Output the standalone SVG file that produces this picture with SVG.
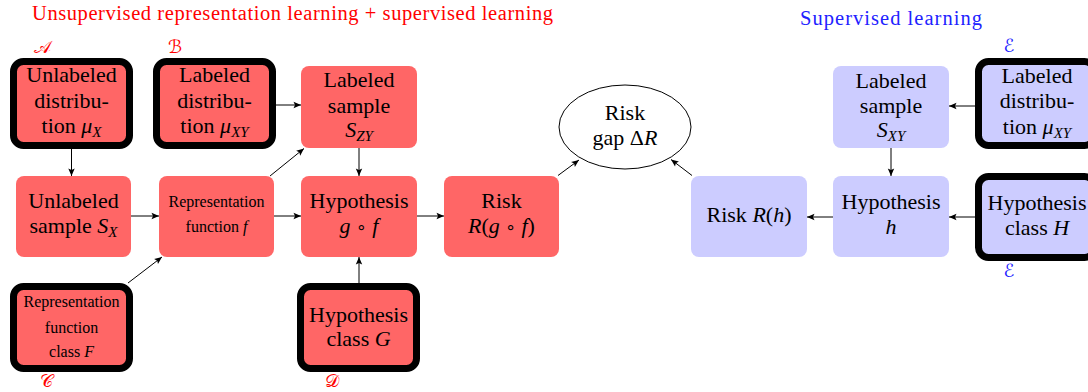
<svg xmlns="http://www.w3.org/2000/svg" width="1088" height="392" viewBox="0 0 1088 392">
  <style>
    .red { fill: #ff6666; }
    .blue { fill: #ccccff; }
    .thick { stroke: #000; stroke-width: 7; }
    .t { font-family: "Liberation Serif", "DejaVu Serif", serif; font-size: 22px; fill: #000; text-anchor: middle; }
    .s { font-family: "Liberation Serif", "DejaVu Serif", serif; font-size: 16px; fill: #000; text-anchor: middle; }
    .i { font-style: italic; }
    .sub { font-size: 15px; font-style: italic; }
    .op { font-family: "DejaVu Sans", sans-serif; font-size: 17px; }
    .lab { font-family: "DejaVu Serif", "DejaVu Sans", serif; font-size: 18px; text-anchor: middle; }
    .head { font-family: "Liberation Serif", serif; font-size: 20.5px; }
    .edge { stroke: #000; stroke-width: 1; fill: none; marker-end: url(#arr); }
  </style>
  <defs>
    <marker id="arr" markerUnits="userSpaceOnUse" markerWidth="9" markerHeight="8" refX="8" refY="4" orient="auto">
      <path d="M0.5,0.8 L8,4 L0.5,7.2 L2,4 Z" fill="#000"/>
    </marker>
  </defs>

  <!-- section headings -->
  <text class="head" x="32" y="20" fill="#f00" textLength="521" lengthAdjust="spacing">Unsupervised representation learning + supervised learning</text>
  <text class="head" x="800" y="25" fill="#22f" textLength="182" lengthAdjust="spacing">Supervised learning</text>

  <!-- source labels -->
  <text class="lab" x="42" y="53" fill="#f00">𝒜</text>
  <text class="lab" x="175" y="53" fill="#f00">ℬ</text>
  <text class="lab" x="46" y="387" fill="#f00">𝒞</text>
  <text class="lab" x="332" y="387" fill="#f00">𝒟</text>
  <text class="lab" x="1009" y="52" fill="#22f">ℰ</text>
  <text class="lab" x="1009" y="277" fill="#22f">ℰ</text>

  <!-- connectors -->
  <g id="connectors">
    <line class="edge" x1="71.5" y1="149" x2="71.5" y2="176"/>
    <line class="edge" x1="131" y1="216" x2="159" y2="216"/>
    <line class="edge" x1="128" y1="283" x2="162" y2="257"/>
    <line class="edge" x1="276" y1="105" x2="301" y2="105"/>
    <line class="edge" x1="270" y1="176" x2="304" y2="148.5"/>
    <line class="edge" x1="274" y1="216" x2="301" y2="216"/>
    <line class="edge" x1="359" y1="148" x2="359" y2="176"/>
    <line class="edge" x1="359" y1="283" x2="359" y2="257" stroke-width="1.5"/>
    <line class="edge" x1="417" y1="216" x2="444" y2="216"/>
    <line class="edge" x1="558" y1="175.5" x2="579" y2="160"/>
    <line class="edge" x1="692" y1="175.5" x2="671" y2="159.5"/>
    <line class="edge" x1="975" y1="106" x2="949" y2="106"/>
    <line class="edge" x1="891" y1="148" x2="891" y2="176"/>
    <line class="edge" x1="975" y1="217" x2="949" y2="217"/>
    <line class="edge" x1="833" y1="217" x2="807" y2="217"/>
  </g>

  <g id="unlabeled-distribution">
    <rect class="red thick" x="13.5" y="61.5" width="116" height="84" rx="10"/>
    <text class="t" x="71.5" y="82">Unlabeled</text>
    <text class="t" x="71.5" y="108">distribu-</text>
    <text class="t" x="71.5" y="133">tion <tspan class="i">μ</tspan><tspan class="sub" dy="4">X</tspan></text>
  </g>

  <g id="labeled-distribution">
    <rect class="red thick" x="156.5" y="61.5" width="116" height="84" rx="10"/>
    <text class="t" x="214.5" y="82">Labeled</text>
    <text class="t" x="214.5" y="108">distribu-</text>
    <text class="t" x="214.5" y="133">tion <tspan class="i">μ</tspan><tspan class="sub" dy="4">XY</tspan></text>
  </g>

  <g id="unlabeled-sample">
    <rect class="red" x="16" y="176" width="115" height="81" rx="8"/>
    <text class="t" x="73.5" y="208">Unlabeled</text>
    <text class="t" x="73.5" y="233">sample <tspan class="i">S</tspan><tspan class="sub" dy="4">X</tspan></text>
  </g>

  <g id="representation-function">
    <rect class="red" x="159" y="176" width="115" height="81" rx="8"/>
    <text class="s" x="216.5" y="207">Representation</text>
    <text class="s" x="216.5" y="232">function  <tspan class="i">f</tspan></text>
  </g>

  <g id="representation-class">
    <rect class="red thick" x="13.5" y="286.5" width="116" height="82" rx="10"/>
    <text class="s" x="71.5" y="307">Representation</text>
    <text class="s" x="71.5" y="333">function</text>
    <text class="s" x="71.5" y="357">class  <tspan class="i">F</tspan></text>
  </g>

  <g id="labeled-sample-zy">
    <rect class="red" x="301" y="66" width="116" height="82" rx="8"/>
    <text class="t" x="359" y="87">Labeled</text>
    <text class="t" x="359" y="113">sample</text>
    <text class="t" x="359" y="137"><tspan class="i">S</tspan><tspan class="sub" dy="4">ZY</tspan></text>
  </g>

  <g id="hypothesis-gf">
    <rect class="red" x="301" y="176" width="116" height="81" rx="8"/>
    <text class="t" x="359" y="208">Hypothesis</text>
    <text class="t" x="359" y="233"><tspan class="i">g</tspan> <tspan class="op">∘</tspan> <tspan class="i">f</tspan></text>
  </g>

  <g id="hypothesis-class-g">
    <rect class="red thick" x="300.5" y="286.5" width="116" height="82" rx="10"/>
    <text class="t" x="358.5" y="322">Hypothesis</text>
    <text class="t" x="358.5" y="346">class <tspan class="i">G</tspan></text>
  </g>

  <g id="risk-gf">
    <rect class="red" x="444" y="176" width="115" height="81" rx="8"/>
    <text class="t" x="501.5" y="208">Risk</text>
    <text class="t" x="501.5" y="233"><tspan class="i">R</tspan>(<tspan class="i">g</tspan> <tspan class="op">∘</tspan> <tspan class="i">f</tspan>)</text>
  </g>

  <g id="risk-gap">
    <ellipse cx="625" cy="127" rx="66" ry="42" fill="#fff" stroke="#000" stroke-width="1"/>
    <text class="t" x="625" y="120">Risk</text>
    <text class="t" x="625" y="145">gap Δ<tspan class="i">R</tspan></text>
  </g>

  <g id="risk-h">
    <rect class="blue" x="691" y="176" width="116" height="81" rx="8"/>
    <text class="t" x="749" y="222">Risk <tspan class="i">R</tspan>(<tspan class="i">h</tspan>)</text>
  </g>

  <g id="labeled-sample-xy">
    <rect class="blue" x="833" y="66" width="116" height="82" rx="8"/>
    <text class="t" x="891" y="88">Labeled</text>
    <text class="t" x="891" y="113">sample</text>
    <text class="t" x="891" y="137"><tspan class="i">S</tspan><tspan class="sub" dy="4">XY</tspan></text>
  </g>

  <g id="hypothesis-h">
    <rect class="blue" x="833" y="176" width="116" height="81" rx="8"/>
    <text class="t" x="891" y="209">Hypothesis</text>
    <text class="t i" x="891" y="234">h</text>
  </g>

  <g id="labeled-distribution-xy">
    <rect class="blue thick" x="978.5" y="61.5" width="116" height="84" rx="10"/>
    <text class="t" x="1037" y="83">Labeled</text>
    <text class="t" x="1037" y="108">distribu-</text>
    <text class="t" x="1037" y="134">tion <tspan class="i">μ</tspan><tspan class="sub" dy="4">XY</tspan></text>
  </g>

  <g id="hypothesis-class-h">
    <rect class="blue thick" x="978.5" y="176.5" width="116" height="81" rx="10"/>
    <text class="t" x="1037" y="210">Hypothesis</text>
    <text class="t" x="1037" y="235">class <tspan class="i">H</tspan></text>
  </g>
</svg>
